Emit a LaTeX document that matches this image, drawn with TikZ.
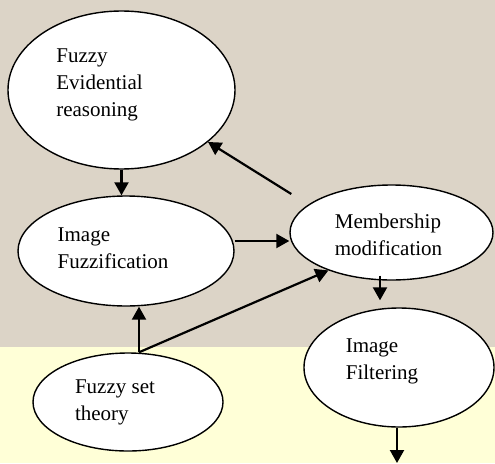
\documentclass[tikz,border=0pt]{standalone}
\usepackage{fontspec}
\setmainfont{Liberation Serif}
\newfontfamily\timesface{Liberation Serif}
\usetikzlibrary{shapes.geometric, arrows.meta, positioning}
\definecolor{paper}{HTML}{DCD4C7}
\definecolor{cream}{HTML}{FFFFD7}

\begin{document}
\begin{tikzpicture}[
    x=1pt, y=-1pt,
    %% ── Symbol styles ─────────────────────────────────────────
    bubble/.style={
        ellipse,
        draw=black, fill=white,
        line width=1.4pt, inner sep=0pt
    },
    txt/.style={
        align=left, inner sep=0pt,
        font=\timesface\fontsize{21}{27}\selectfont
    },
    arrow/.style={line width=2.2pt, -{Triangle[length=13pt, width=14pt]}, draw=black}
]

%% ── Backdrop ───────────────────────────────────────────────────
\useasboundingbox (0,0) rectangle (495,463);
\fill [paper] (0,0)   rectangle (495,347);
\fill [cream] (0,347) rectangle (495,463);

%% ── Nodes ──────────────────────────────────────────────────────
\node (evid) [bubble, minimum width=227pt, minimum height=158pt,
              label={[txt, xshift=-22pt, yshift=5pt]center:Fuzzy\\Evidential\\reasoning}]
              at (121.5,90) {};
\node (fuzz) [bubble, minimum width=216pt, minimum height=110pt,
              label={[txt, xshift=-13pt, yshift=3pt]center:Image\\Fuzzification}]
              at (126,251) {};
\node (memb) [bubble, minimum width=203pt, minimum height=95pt,
              label={[txt, xshift=-3pt, yshift=-2pt]center:Membership\\modification}]
              at (391.5,232.5) {};
\node (filt) [bubble, minimum width=190pt, minimum height=119pt,
              label={[txt, xshift=-17pt, yshift=6pt]center:Image\\Filtering}]
              at (399,367.5) {};
\node (set)  [bubble, minimum width=190pt, minimum height=98pt,
              label={[txt, xshift=-13pt, yshift=0pt]center:Fuzzy set\\theory}]
              at (128,402) {};

\coordinate (fork) at ([xshift=11pt]set.north);
\coordinate (out)  at (397,463);
\coordinate (back) at ([shift={(2,-38.5)}]memb.west);

%% ── Flow arrows ────────────────────────────────────────────────
\draw [arrow] (evid.south) -- (evid.south |- fuzz.north);
\draw [arrow] (back)       -- (evid.-31);
\draw [arrow] ([yshift=10pt]fuzz.east) -- ([yshift=10pt]fuzz.east -| memb.west);
%% from the theory node
\draw [arrow] (fork) -- (fork |- fuzz.south);
\draw [arrow] (fork) -- (memb.211);
%% down to filtering
\draw [arrow] ([xshift=-11.5pt, yshift=5pt]memb.south) -- ([xshift=-19pt, yshift=7pt]filt.north);
\draw [arrow] (filt.south -| out) -- (out);

\end{tikzpicture}
\end{document}
